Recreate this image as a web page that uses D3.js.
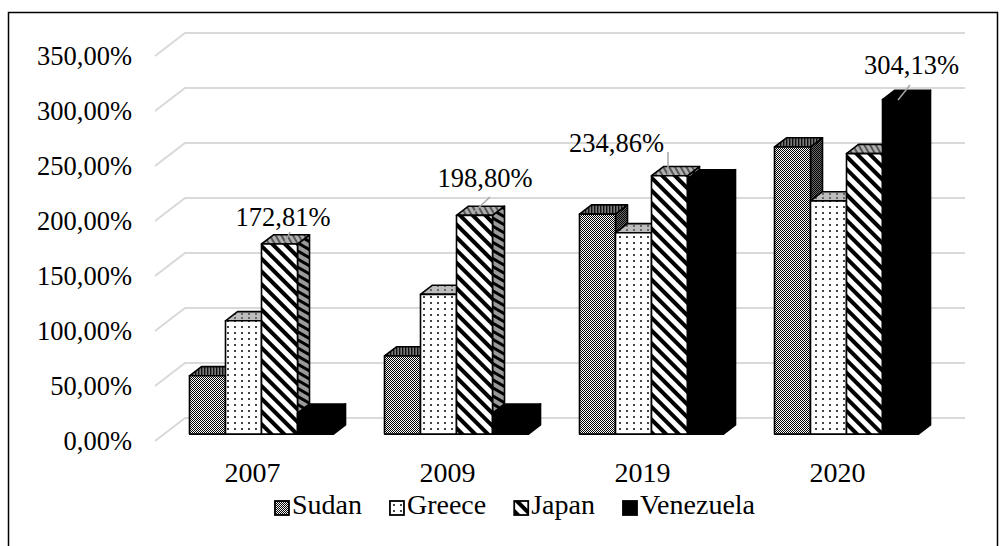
<!DOCTYPE html>
<html>
<head>
<meta charset="utf-8">
<script src="https://cdn.jsdelivr.net/npm/d3@7"></script>
<style>
  html, body { margin: 0; padding: 0; background: #fff; }
  svg { display: block; }
  svg text { font-family: "Liberation Serif", "Times New Roman", Times, "DejaVu Serif", "Noto Serif", serif; fill: #000; }
</style>
</head>
<body>
<svg id="chart" width="1001" height="546"></svg>
<script>
// ---- data ----
const years = ["2007", "2009", "2019", "2020"];
const seriesNames = ["Sudan", "Greece", "Japan", "Venezuela"];
const sudan = [53, 71, 200, 261];
const greece = [103, 127, 183, 212];
const japan = [172.81, 198.80, 234.86, 255];
const venezuela = [19, 19, 232, 304.13];
const tickValues = [0, 50, 100, 150, 200, 250, 300, 350];
// bars that carry a value label: [series index, year index]
const labelledBars = [[2, 0], [2, 1], [2, 2], [3, 3]];

// ---- layout ----
const seriesValues = [sudan, greece, japan, venezuela];
const depthX = 30, depthY = 23;      // oblique offset of the full floor depth
const barZ0 = 0.3, barZ1 = 0.7;      // bars sit in the middle of the floor depth
const serif = '"Liberation Serif", "Times New Roman", Times, "DejaVu Serif", "Noto Serif", serif';
// label placement: text offset from the bar's front-face centre/top,
// leader line endpoints relative to the bar's front-left top corner
const labelLayout = [
  { tx: 3.5, ty: -18, l: [28.5, -12, 23.5, -2] },
  { tx: 10.5, ty: -28, l: [33.5, -18.4, 16.5, -2.4] },
  { tx: -53, ty: -24, l: [16.5, -23.8, 16.5, -0.8] },
  { tx: 11, ty: -25.6, l: [27.5, -14.6, 15.5, 0.4] }
];

const svg = d3.select("#chart");
const locale = d3.formatLocale({ decimal: ",", thousands: ".", grouping: [3], currency: ["", ""] });
const fmt = v => locale.format(".2f")(v) + "%";

const x = d3.scaleBand().domain(years).range([155, 935]);
const xs = d3.scaleBand().domain(seriesNames).range([0, x.bandwidth()])
  .paddingInner(0).paddingOuter(0.708);
const y = d3.scaleLinear().domain([0, 350]).range([441, 56]);
const P = (px, py, z) => [px + depthX * z, py - depthY * z];

// ---- patterns ----
const defs = svg.append("defs");
function pat(id, w, h, bg, draw, transform) {
  const p = defs.append("pattern").attr("id", id).attr("patternUnits", "userSpaceOnUse")
    .attr("width", w).attr("height", h);
  if (transform) p.attr("patternTransform", transform);
  p.append("rect").attr("width", w).attr("height", h).attr("fill", bg);
  draw(p);
}
const checker = (fg) => p => {
  p.append("rect").attr("x", 0).attr("y", 0).attr("width", 1).attr("height", 1).attr("fill", fg);
  p.append("rect").attr("x", 1).attr("y", 1).attr("width", 1).attr("height", 1).attr("fill", fg);
};
pat("sudanFront", 2, 2, "#ffffff", checker("#000"));
pat("sudanTop", 3, 3, "#7a7a7a", p => p.append("rect").attr("width", 1.4).attr("height", 3).attr("fill", "#111"));
pat("sudanSide", 2, 2, "#6a6a6a", checker("#000"));
pat("greeceFront", 7, 6, "#ffffff", p => p.append("rect").attr("x", 3).attr("y", 2).attr("width", 2).attr("height", 2).attr("fill", "#444"));
pat("greeceTop", 7, 4, "#bdbdbd", p => p.append("rect").attr("x", 3).attr("y", 1).attr("width", 2).attr("height", 2).attr("fill", "#666"));
pat("japanFront", 9, 9, "#ffffff", p => p.append("rect").attr("width", 4).attr("height", 9).attr("fill", "#000"), "rotate(-45)");
pat("japanTop", 5, 5, "#b0b0b0", p => p.append("rect").attr("width", 2).attr("height", 5).attr("fill", "#555"), "rotate(-30)");
pat("japanSide", 7, 7, "#9a9a9a", p => p.append("rect").attr("width", 3).attr("height", 7).attr("fill", "#000"), "rotate(-60)");

const fills = [
  { front: "url(#sudanFront)", top: "url(#sudanTop)", side: "url(#sudanSide)" },
  { front: "url(#greeceFront)", top: "url(#greeceTop)", side: "url(#greeceTop)" },
  { front: "url(#japanFront)", top: "url(#japanTop)", side: "url(#japanSide)" },
  { front: "#000", top: "#000", side: "#000" }
];

// ---- outer frame ----
svg.append("rect").attr("x", 8.5).attr("y", 12.5).attr("width", 989).attr("height", 600)
  .attr("fill", "none").attr("stroke", "#000").attr("stroke-width", 1.5);

// ---- gridlines: floor diagonal + back wall ----
const grid = svg.append("g").attr("fill", "none").attr("stroke", "#d9d9d9").attr("stroke-width", 2);
tickValues.forEach(v => {
  const a = P(155, y(v), 0), b = P(155, y(v), 1), c = P(935, y(v), 1);
  grid.append("path").attr("d", d3.line()([a, b, c]));
});

// ---- y axis labels ----
const yAxis = svg.append("g").attr("transform", "translate(155,0)")
  .call(d3.axisLeft(y).tickValues(tickValues).tickSize(0).tickPadding(23).tickFormat(fmt));
yAxis.attr("font-family", serif).attr("font-size", 26.5);
yAxis.select(".domain").remove();

// ---- x axis labels ----
const xAxis = svg.append("g").attr("transform", "translate(0,441)")
  .call(d3.axisBottom(x).tickSize(0).tickPadding(0));
xAxis.attr("font-family", serif).attr("font-size", 28);
xAxis.select(".domain").remove();
xAxis.selectAll("text").attr("dy", null).attr("y", 41);

// ---- bars ----
const poly = pts => "M" + pts.map(p => p.join(",")).join("L") + "Z";
const barsG = svg.append("g").attr("stroke", "#000").attr("stroke-width", 1.6).attr("stroke-linejoin", "round");
function barGeom(si, yi) {
  const v = seriesValues[si][yi];
  const x0 = x(years[yi]) + xs(seriesNames[si]), x1 = x0 + xs.bandwidth();
  const yt = y(v), yb = y(0);
  return { v, x0, x1, yt, yb };
}
years.forEach((yr, yi) => {
  seriesNames.forEach((s, si) => {
    const g = barGeom(si, yi);
    const f = fills[si];
    const side = [P(g.x1, g.yt, barZ0), P(g.x1, g.yt, barZ1), P(g.x1, g.yb, barZ1), P(g.x1, g.yb, barZ0)];
    const top = [P(g.x0, g.yt, barZ0), P(g.x1, g.yt, barZ0), P(g.x1, g.yt, barZ1), P(g.x0, g.yt, barZ1)];
    const front = [P(g.x0, g.yt, barZ0), P(g.x1, g.yt, barZ0), P(g.x1, g.yb, barZ0), P(g.x0, g.yb, barZ0)];
    barsG.append("path").attr("d", poly(side)).attr("fill", f.side);
    barsG.append("path").attr("d", poly(top)).attr("fill", f.top);
    barsG.append("path").attr("d", poly(front)).attr("fill", f.front);
  });
});

// ---- value labels with leader lines ----
labelledBars.forEach(([si, yi], k) => {
  const g = barGeom(si, yi);
  const [fx, fy] = P(g.x0, g.yt, barZ0);
  const L = labelLayout[k];
  svg.append("line")
    .attr("x1", fx + L.l[0]).attr("y1", fy + L.l[1])
    .attr("x2", fx + L.l[2]).attr("y2", fy + L.l[3])
    .attr("stroke", "#a6a6a6").attr("stroke-width", 1.5);
  svg.append("text")
    .attr("x", fx + xs.bandwidth() / 2 + L.tx).attr("y", fy + L.ty)
    .attr("text-anchor", "middle").attr("font-size", 26.5).attr("font-family", serif)
    .text(fmt(g.v));
});

// ---- legend ----
const legend = svg.append("g").attr("font-family", serif);
const legendGap = 28;
let lx = 0;
seriesNames.forEach((s, si) => {
  const it = legend.append("g");
  it.append("rect").attr("x", 0).attr("y", -13).attr("width", 14).attr("height", 14)
    .attr("fill", fills[si].front).attr("stroke", "#000").attr("stroke-width", 1.8);
  const t = it.append("text").attr("x", 17).attr("y", 0).attr("font-size", 28).text(s);
  const w = 17 + t.node().getComputedTextLength();
  it.attr("transform", `translate(${lx},0)`);
  lx += w + legendGap;
});
const legendWidth = lx - legendGap;
legend.attr("transform", `translate(${515 - legendWidth / 2},514)`);
</script>
</body>
</html>
